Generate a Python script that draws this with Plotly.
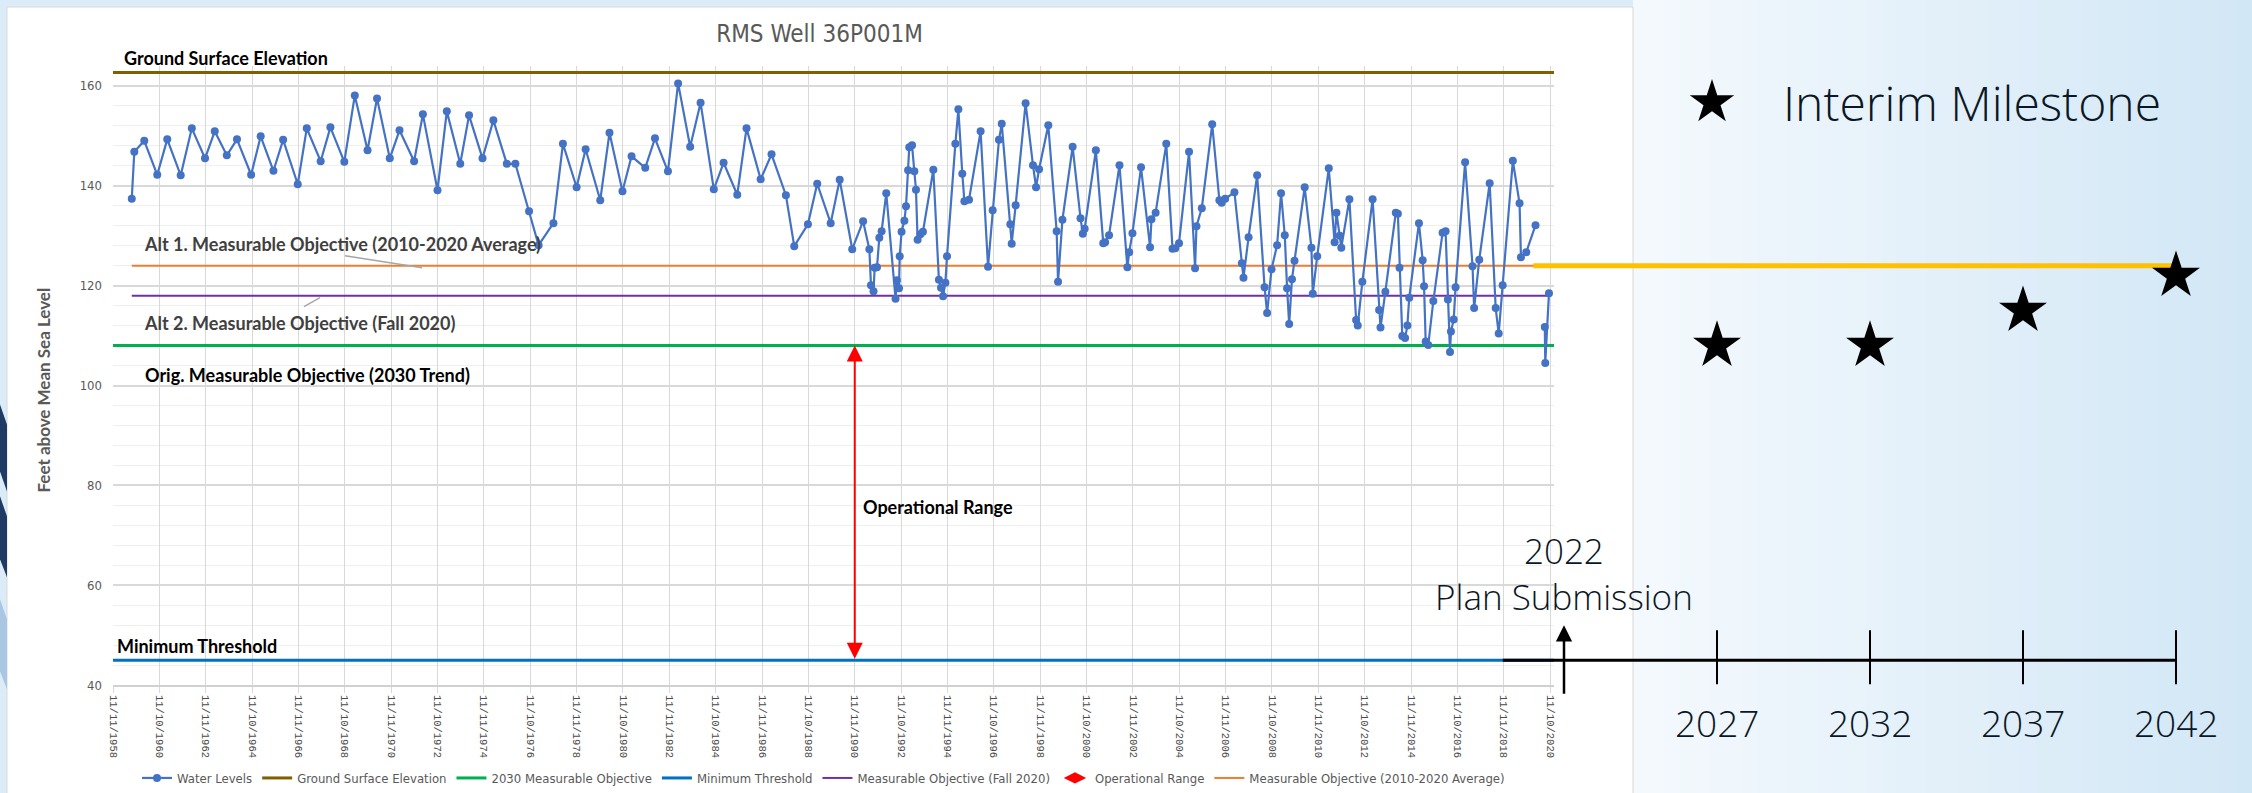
import plotly.graph_objects as go
import pandas as pd

# ---------------- data ----------------
TITLE = "RMS Well 36P001M"
Y_TITLE = "Feet above Mean Sea Level"

# Water level measurements (decimal year, feet above MSL); None = gap in record
WL_YEARS = [
    1959.67, 1959.78, 1960.21, 1960.77, 1961.20, 1961.78, 1962.26, 1962.83, 1963.25, 1963.77,
    1964.21, 1964.82, 1965.23, 1965.78, 1966.20, 1966.83, 1967.22, 1967.82, 1968.24, 1968.84,
    1969.29, 1969.84, 1970.25, 1970.80, 1971.22, 1971.85, 1972.23, 1972.86, 1973.26, 1973.84,
    1974.22, 1974.80, 1975.27, 1975.85, 1976.22, 1976.81, 1977.22, 1977.86, 1978.27, 1978.86,
    1979.25, 1979.88, 1980.28, 1980.84, 1981.23, 1981.82, 1982.24, 1982.80, 1983.24, 1983.76,
    1984.21, 1984.78, 1985.20, 1985.79, 1986.19, 1986.80, 1987.27, 1987.89, 1988.25, 1988.84,
    1989.24, 1989.82, 1990.21, 1990.75,
    1991.22, 1991.49, 1991.56, 1991.67, 1991.72, 1991.82, 1991.92, 1992.02, 1992.22, 1992.62,
    1992.68, 1992.77, 1992.80, 1992.88, 1993.00, 1993.07, 1993.16, 1993.21, 1993.33, 1993.43,
    1993.50, 1993.57, 1993.69, 1993.80, 1994.25, 1994.49, 1994.58, 1994.67, 1994.77, 1994.84,
    1995.20, 1995.33, 1995.50, 1995.59, 1995.79, 1996.29, 1996.61, 1996.81, 1997.08, 1997.20,
    1997.57, 1997.63, 1997.80, 1998.23, 1998.55, 1998.68, 1998.81, 1999.21, 1999.57, 1999.63,
    1999.82, 2000.26, 2000.60, 2000.70, 2000.78, 2001.26, 2001.58, 2001.66, 2001.83, 2002.28,
    2002.62, 2002.70, 2002.84, 2003.21, 2003.60, 2003.66, 2003.84, 2004.30, 2004.57, 2004.69,
    2004.85, 2005.28, 2005.54, 2005.60, 2005.83, 2006.28, 2006.59, 2006.69, 2006.84, 2007.24,
    2007.56, 2007.63, 2007.85, 2008.22, 2008.54, 2008.65, 2008.84, 2009.08, 2009.25, 2009.41,
    2009.51, 2009.60, 2009.72, 2009.83, 2010.27, 2010.56, 2010.62, 2010.81, 2011.31, 2011.56,
    2011.64, 2011.78, 2011.85, 2012.20, 2012.49, 2012.56, 2012.76, 2013.20, 2013.48, 2013.54,
    2013.75, 2014.20, 2014.29, 2014.36, 2014.48, 2014.60, 2014.70, 2014.78, 2015.20, 2015.36,
    2015.42, 2015.49, 2015.60, 2015.82, 2016.22, 2016.35, 2016.45, 2016.54, 2016.58, 2016.70,
    2016.78, 2017.19, 2017.51, 2017.58, 2017.80, 2018.25, 2018.51, 2018.64, 2018.81, 2019.25,
    2019.54, 2019.60, 2019.83, 2020.23, 2020.45, 2020.63, 2020.65, 2020.81,
]
WL_VALUES = [
    137.4, 146.8, 149.0, 142.2, 149.3, 142.1, 151.5, 145.5, 150.9, 146.1,
    149.3, 142.2, 149.9, 143.0, 149.2, 140.3, 151.5, 144.9, 151.7, 144.8,
    158.1, 147.1, 157.5, 145.5, 151.1, 144.9, 154.3, 139.1, 154.9, 144.4,
    154.1, 145.5, 153.1, 144.4, 144.4, 134.9, 128.1, 132.5, 148.4, 139.7,
    147.3, 137.1, 150.6, 138.9, 145.9, 143.6, 149.5, 142.9, 160.5, 147.8,
    156.6, 139.3, 144.6, 138.2, 151.5, 141.3, 146.3, 138.1, 127.9, 132.3,
    140.4, 132.5, 141.2, 127.3,
    132.9, 127.3, 120.1, 118.9, 123.6, 123.7, 129.6, 130.9, 138.5, 117.4,
    121.1, 119.5, 125.9, 130.8, 133.0, 135.9, 143.1, 147.7, 148.1, 142.9,
    139.2, 129.2, 130.3, 130.8, 143.2, 121.2, 119.6, 117.9, 120.6, 125.9,
    148.4, 155.3, 142.4, 136.9, 137.2, 150.9, 123.8, 135.1, 149.2, 152.4,
    132.3, 128.4, 136.1, 156.5, 144.1, 139.7, 143.3, 152.1, 130.9, 120.8,
    133.2, 147.8, 133.5, 130.4, 131.4, 147.1, 128.5, 128.7, 130.1, 144.1,
    123.7, 126.7, 130.5, 143.7, 127.7, 133.3, 134.6, 148.4, 127.4, 127.5,
    128.5, 146.8, 123.5, 131.9, 135.5, 152.3, 137.1, 136.6, 137.4, 138.7,
    124.5, 121.6, 129.7, 142.1, 119.7, 114.5, 123.3, 128.1, 138.5, 130.1,
    119.5, 112.3, 121.3, 125.0, 139.7, 127.6, 118.4, 125.9, 143.5, 128.7,
    134.6, 130.0, 127.6, 137.3, 113.1, 112.0, 120.8, 137.3, 115.1, 111.6,
    118.8, 134.6, 134.4, 123.6, 109.9, 109.5, 112.0, 117.6, 132.5, 125.1,
    119.9, 108.8, 108.1, 116.9, 130.6, 130.9, 117.2, 106.7, 110.8, 113.2,
    119.7, 144.7, 123.9, 115.5, 125.2, 140.5, 115.5, 110.4, 120.1, 145.0,
    136.5, 125.7, 126.7, 132.1, None, 111.7, 104.5, 118.5,
]

GROUND_SURFACE = 162.7
ORIG_MO_2030 = 108
MIN_THRESHOLD = 45
MO_FALL_2020 = 118
MO_AVG_2010_2020 = 124

XTICK_LABELS = [
    "11/11/1958", "11/10/1960", "11/11/1962", "11/10/1964", "11/11/1966", "11/10/1968",
    "11/11/1970", "11/10/1972", "11/11/1974", "11/10/1976", "11/11/1978", "11/10/1980",
    "11/11/1982", "11/10/1984", "11/11/1986", "11/10/1988", "11/11/1990", "11/10/1992",
    "11/11/1994", "11/10/1996", "11/11/1998", "11/10/2000", "11/11/2002", "11/10/2004",
    "11/11/2006", "11/10/2008", "11/11/2010", "11/10/2012", "11/11/2014", "11/10/2016",
    "11/11/2018", "11/10/2020",
]
Y_TICKS = [40, 60, 80, 100, 120, 140, 160]
X_RANGE = ["1958-11-11", "2021-01-10"]
Y_RANGE = [40, 164]
OPERATIONAL_RANGE_DATE = "1990-11-11"

# future timeline
MILESTONE_YEARS = [2027, 2032, 2037, 2042]
MILESTONE_VALUES = [108, 108, 115, 122]
PLAN_SUBMISSION_YEAR = 2022
TIMELINE_YEARS = [2020, 2042]
ALT1_EXTENSION_YEARS = [2021, 2042]
ALT1_EXTENSION_VALUES = [124, 124]

# ---------------- helpers ----------------
W, H = 2252, 793


def px(xp):
    return xp / W


def py(yp):
    return 1 - yp / H


def to_date(y):
    if y is None:
        return None
    yr = int(y)
    return pd.Timestamp(yr, 1, 1) + pd.Timedelta(days=(y - yr) * 365.25)


assert len(WL_YEARS) == len(WL_VALUES)
wl_dates = [to_date(y) for y in WL_YEARS]
tick_dates = list(pd.to_datetime(XTICK_LABELS, format="%m/%d/%Y"))

GRAY = "#595959"
NARROW = "Liberation Sans Narrow, DejaVu Sans Condensed, Roboto, sans-serif"
BOLD_FONT = "Lato, Roboto, sans-serif"
SLIDE_FONT = "Open Sans, Lato, sans-serif"
SLIDE_COLOR = "#0b1724"

# secondary (future) horizontal scale
X2_PX_PER_YEAR = 30.6
X2_REF_YEAR, X2_REF_PX = 2032, 1870
X2_DOMAIN_PX = (1490, 2252)
x2_range = [X2_REF_YEAR + (p - X2_REF_PX) / X2_PX_PER_YEAR for p in X2_DOMAIN_PX]

fig = go.Figure()

# reference lines
fig.add_trace(go.Scatter(x=X_RANGE, y=[GROUND_SURFACE] * 2, mode="lines",
                         name="Ground Surface Elevation", legendrank=2,
                         line=dict(color="#7F6000", width=3), hoverinfo="skip"))
fig.add_trace(go.Scatter(x=X_RANGE, y=[ORIG_MO_2030] * 2, mode="lines",
                         name="2030 Measurable Objective", legendrank=3,
                         line=dict(color="#00B050", width=3), hoverinfo="skip"))
fig.add_trace(go.Scatter(x=X_RANGE, y=[MIN_THRESHOLD] * 2, mode="lines",
                         name="Minimum Threshold", legendrank=4,
                         line=dict(color="#0070C0", width=3), hoverinfo="skip"))
first_date, last_date = wl_dates[0], [d for d, v in zip(wl_dates, WL_VALUES) if v is not None][-1]
fig.add_trace(go.Scatter(x=[first_date, last_date], y=[MO_FALL_2020] * 2, mode="lines",
                         name="Measurable Objective (Fall 2020)", legendrank=5,
                         line=dict(color="#7030A0", width=2), hoverinfo="skip"))
fig.add_trace(go.Scatter(x=[None], y=[None], mode="markers",
                         name="Operational Range", legendrank=6,
                         marker=dict(symbol="diamond-wide", size=16, color="#FF0000")))
fig.add_trace(go.Scatter(x=[first_date, last_date], y=[MO_AVG_2010_2020] * 2, mode="lines",
                         name="Measurable Objective (2010-2020 Average)", legendrank=7,
                         line=dict(color="#ED7D31", width=2), hoverinfo="skip"))
# water levels
fig.add_trace(go.Scatter(x=wl_dates, y=WL_VALUES, mode="lines+markers",
                         name="Water Levels", legendrank=1, connectgaps=False,
                         line=dict(color="#4472C4", width=2.2),
                         marker=dict(color="#4472C4", size=8)))

# future: extension of Alt 1 objective and interim milestones
fig.add_trace(go.Scatter(x=ALT1_EXTENSION_YEARS, y=ALT1_EXTENSION_VALUES, mode="lines",
                         xaxis="x2", yaxis="y2", showlegend=False,
                         line=dict(color="#FFC000", width=5), hoverinfo="skip"))
fig.add_trace(go.Scatter(x=MILESTONE_YEARS, y=MILESTONE_VALUES, mode="markers",
                         xaxis="x2", yaxis="y2", showlegend=False, cliponaxis=False,
                         marker=dict(symbol="star", size=36, color="black")))

# ---------------- shapes ----------------
shapes = []
# background gradient on the right
N = 40
c0, c1 = (244, 249, 253), (210, 231, 246)
x_start = 1633
for i in range(N):
    t = i / (N - 1)
    col = "rgb(%d,%d,%d)" % tuple(round(a + (b - a) * t) for a, b in zip(c0, c1))
    xa = x_start + (W - x_start) * i / N
    xb = x_start + (W - x_start) * (i + 1) / N + 1
    shapes.append(dict(type="rect", xref="paper", yref="paper", layer="below",
                       x0=px(xa), x1=px(xb), y0=-0.1, y1=1.1, fillcolor=col, line_width=0))


def path(points, close=True):
    s = "M " + " L ".join("%f,%f" % (px(a), py(b)) for a, b in points)
    return s + (" Z" if close else "")


# white chart panel (no bottom border)
shapes.append(dict(type="rect", xref="paper", yref="paper", layer="below",
                   x0=px(7), x1=px(1633), y0=-0.1, y1=py(7),
                   fillcolor="white", line_width=0))
shapes.append(dict(type="path", xref="paper", yref="paper", layer="below",
                   path=path([(7, H + 40), (7, 7), (1633, 7), (1633, H + 40)], close=False),
                   line=dict(color="#d9d9d9", width=1)))

shapes.append(dict(type="path", xref="paper", yref="paper", layer="below",
                   path=path([(0, 405), (7, 425), (7, 492), (0, 472)]),
                   fillcolor="#1f3b63", line_width=0))
shapes.append(dict(type="path", xref="paper", yref="paper", layer="below",
                   path=path([(0, 497), (7, 517), (7, 578), (0, 560)]),
                   fillcolor="#1f3b63", line_width=0))
shapes.append(dict(type="path", xref="paper", yref="paper", layer="below",
                   path=path([(0, 600), (7, 620), (7, 690), (0, 672)]),
                   fillcolor="#a9c6e2", line_width=0))
# leader lines for labels
shapes.append(dict(type="line", xref="paper", yref="paper", x0=px(345), y0=py(256),
                   x1=px(422), y1=py(268), line=dict(color="#a6a6a6", width=1.5)))
shapes.append(dict(type="line", xref="paper", yref="paper", x0=px(304), y0=py(307),
                   x1=px(320), y1=py(298), line=dict(color="#a6a6a6", width=1.5)))
# timeline
shapes.append(dict(type="line", xref="x2", yref="y2", x0=TIMELINE_YEARS[0], x1=TIMELINE_YEARS[1],
                   y0=MIN_THRESHOLD, y1=MIN_THRESHOLD, line=dict(color="black", width=3)))
for yr in MILESTONE_YEARS:
    shapes.append(dict(type="line", xref="x2", yref="y2", x0=yr, x1=yr, y0=40.2, y1=51,
                       line=dict(color="black", width=2)))

# ---------------- annotations ----------------
ann = []


def label(text, x, y, color="black", size=18):
    ann.append(dict(text=text, x=px(x), y=py(y), xref="paper", yref="paper",
                    xanchor="left", yanchor="middle", showarrow=False,
                    font=dict(family=BOLD_FONT, size=size, color=color, weight="bold")))


label("Ground Surface Elevation", 122, 58)
label("Alt 1. Measurable Objective (2010-2020 Average)", 142, 244, color="#404040")
label("Alt 2. Measurable Objective (Fall 2020)", 142, 323, color="#404040")
label("Orig. Measurable Objective (2030 Trend)", 143, 375)
label("Minimum Threshold", 115, 647)
label("Operational Range", 861, 508)

# y-axis title
ann.append(dict(text=Y_TITLE, x=px(44), y=py(391), xref="paper", yref="paper",
                textangle=-90, showarrow=False, xanchor="center", yanchor="middle",
                font=dict(family=BOLD_FONT, size=17, color=GRAY, weight="bold")))

# operational range double arrow
ann.append(dict(text="", x=OPERATIONAL_RANGE_DATE, y=ORIG_MO_2030, xref="x", yref="y",
                ax=OPERATIONAL_RANGE_DATE, ay=MIN_THRESHOLD, axref="x", ayref="y",
                showarrow=True, arrowside="end+start", arrowhead=2, arrowsize=1.6,
                arrowwidth=2, arrowcolor="#FF0000", standoff=0, startstandoff=0))

# plan submission arrow and text
ann.append(dict(text="", x=PLAN_SUBMISSION_YEAR, y=52, xref="x2", yref="y2",
                ax=PLAN_SUBMISSION_YEAR, ay=38, axref="x2", ayref="y2",
                showarrow=True, arrowhead=2, arrowsize=1.3, arrowwidth=2.5,
                arrowcolor="black", standoff=0))
ann.append(dict(text="%d<br>Plan Submission" % PLAN_SUBMISSION_YEAR, x=PLAN_SUBMISSION_YEAR,
                y=py(574), xref="x2", yref="paper", showarrow=False,
                xanchor="center", yanchor="middle",
                font=dict(family=SLIDE_FONT, size=35, color=SLIDE_COLOR, weight=300)))
for yr in MILESTONE_YEARS:
    ann.append(dict(text=str(yr), x=yr, y=py(723), xref="x2", yref="paper",
                    showarrow=False, xanchor="center", yanchor="middle",
                    font=dict(family=SLIDE_FONT, size=37, color=SLIDE_COLOR, weight=300)))

# milestone legend
ann.append(dict(text="★", x=px(1712), y=py(101), xref="paper", yref="paper",
                showarrow=False, xanchor="center", yanchor="middle",
                font=dict(family="DejaVu Sans", size=58, color="black")))
ann.append(dict(text="Interim Milestone", x=px(1781), y=py(103), xref="paper", yref="paper",
                showarrow=False, xanchor="left", yanchor="middle",
                font=dict(family=SLIDE_FONT, size=48, color=SLIDE_COLOR, weight=300)))

fig.update_layout(
    width=W, height=H, autosize=False,
    margin=dict(l=0, r=0, t=0, b=0, pad=0),
    paper_bgcolor="#dbecf8", plot_bgcolor="rgba(0,0,0,0)",
    title=dict(text=TITLE, x=px(819.5), y=py(34), xanchor="center", yanchor="middle",
               xref="paper", yref="paper",
               font=dict(family=NARROW, size=24, color=GRAY)),
    xaxis=dict(type="date", domain=[px(113), px(1554)], range=X_RANGE, anchor="y",
               tickvals=tick_dates, ticktext=XTICK_LABELS, tickangle=90,
               tickfont=dict(family="Liberation Mono, DejaVu Sans Mono, monospace",
                             size=10.5, color="#4a4a4a"),
               showgrid=True, gridcolor="#d9d9d9", gridwidth=1.2,
               showline=True, linecolor="#d0d0d0", linewidth=1.5,
               ticks="outside", ticklen=6, tickcolor="#d9d9d9",
               zeroline=False, automargin=False),
    yaxis=dict(domain=[py(686), py(66)], range=Y_RANGE, anchor="x",
               tickvals=Y_TICKS, tickfont=dict(family=NARROW, size=13, color=GRAY),
               showgrid=True, gridcolor="#d9d9d9", gridwidth=1.5,
               minor=dict(dtick=4, tick0=40, showgrid=True, gridcolor="#efefef", gridwidth=1),
               ticks="", ticklabelstandoff=10, showline=False, zeroline=False,
               automargin=False),
    xaxis2=dict(domain=[px(X2_DOMAIN_PX[0]), 1], range=x2_range, anchor="y2",
                visible=False, showgrid=False, zeroline=False),
    yaxis2=dict(domain=[py(686), py(66)], range=Y_RANGE, anchor="x2",
                visible=False, showgrid=False, zeroline=False),
    legend=dict(orientation="h", x=px(137), y=py(779), xanchor="left", yanchor="middle",
                font=dict(family=NARROW, size=13, color=GRAY), bgcolor="rgba(0,0,0,0)",
                itemwidth=30, traceorder="normal"),
    shapes=shapes, annotations=ann, showlegend=True,
)

fig.write_html("out.html", config={"displayModeBar": False},
               post_script="document.body.style.margin='0';"
                           "document.body.style.overflow='hidden';")
